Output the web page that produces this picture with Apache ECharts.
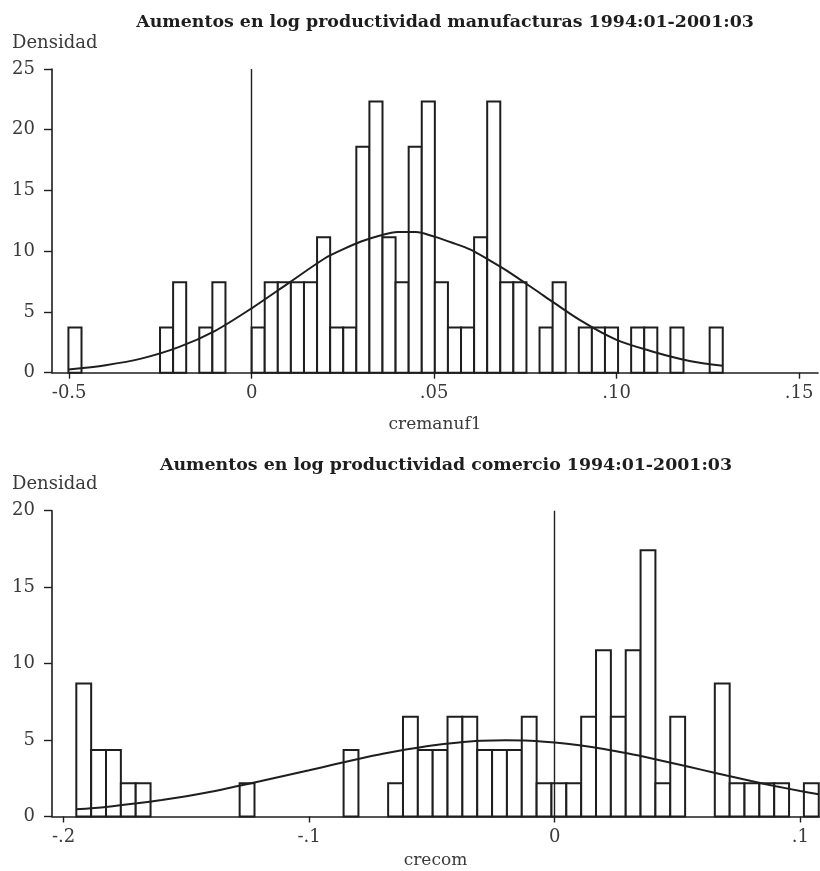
<!DOCTYPE html>
<html>
<head>
<meta charset="utf-8">
<script src="https://cdn.jsdelivr.net/npm/echarts@6/dist/echarts.min.js"></script>
<style>
  html, body { margin: 0; padding: 0; background: #fff; }
  #chart { width: 820px; height: 871px; }
</style>
</head>
<body>
<div id="chart"></div>
<script>
// ---- Manufacturing: 12-month log productivity growth (cremanuf1) ----
const manufTitle = 'Aumentos en log productividad manufacturas 1994:01-2001:03';
const manufVar = 'cremanuf1';
const manufBinStart = -0.0502;
const manufBinWidth = 0.003586;
const manufDensity = [
  3.72, 0, 0, 0, 0, 0, 0, 3.72, 7.44, 0,
  3.72, 7.44, 0, 0, 3.72, 7.44, 7.44, 7.44, 7.44, 11.16,
  3.72, 3.72, 18.6, 22.32, 11.16, 7.44, 18.6, 22.32, 7.44, 3.72,
  3.72, 11.16, 22.32, 7.44, 7.44, 0, 3.72, 7.44, 0, 3.72,
  3.72, 3.72, 0, 3.72, 3.72, 0, 3.72, 0, 0, 3.72
];
const manufNormalX = [-0.0502, -0.04, -0.03, -0.02, -0.01, 0, 0.01, 0.02, 0.025, 0.03,
  0.035, 0.04, 0.045, 0.05, 0.055, 0.06, 0.065, 0.07, 0.08, 0.09,
  0.10, 0.11, 0.12, 0.1291];
const manufNormalY = [0.27, 0.62, 1.18, 2.1, 3.45, 5.3, 7.35, 9.4, 10.15, 10.8,
  11.28, 11.58, 11.58, 11.2, 10.7, 10.13, 9.28, 8.38, 6.35, 4.32,
  2.7, 1.73, 0.97, 0.58];
const manufTickValues = [-0.05, 0, 0.05, 0.10, 0.15];
const manufTickLabels = ['-0.5', '0', '.05', '.10', '.15'];
const manufYTicks = [0, 5, 10, 15, 20, 25];

// ---- Commerce: 12-month log productivity growth (crecom) ----
const comTitle = 'Aumentos en log productividad comercio 1994:01-2001:03';
const comVar = 'crecom';
const comBinStart = -0.1948;
const comBinWidth = 0.006046;
const comDensity = [
  8.7, 4.35, 4.35, 2.18, 2.18, 0, 0, 0, 0, 0,
  0, 2.18, 0, 0, 0, 0, 0, 0, 4.35, 0,
  0, 2.18, 6.53, 4.35, 4.35, 6.53, 6.53, 4.35, 4.35, 4.35,
  6.53, 2.18, 2.18, 2.18, 6.53, 10.88, 6.53, 10.88, 17.41, 2.18,
  6.53, 0, 0, 8.7, 2.18, 2.18, 2.18, 2.18, 0, 2.18
];
const comNormalX = [-0.1948, -0.19, -0.18, -0.17, -0.16, -0.15, -0.14, -0.13, -0.12, -0.11,
  -0.10, -0.09, -0.08, -0.07, -0.06, -0.05, -0.04, -0.03, -0.02, -0.01,
  0, 0.01, 0.02, 0.03, 0.04, 0.05, 0.06, 0.07, 0.08, 0.09, 0.10, 0.1075];
const comNormalY = [0.47, 0.52, 0.67, 0.86, 1.08, 1.33, 1.62, 1.96, 2.3, 2.66,
  3.02, 3.4, 3.76, 4.1, 4.4, 4.65, 4.83, 4.95, 4.99, 4.96,
  4.84, 4.66, 4.42, 4.12, 3.78, 3.42, 3.05, 2.68, 2.32, 1.98, 1.67, 1.45];
const comTickValues = [-0.2, -0.1, 0, 0.1];
const comTickLabels = ['-.2', '-.1', '0', '.1'];
const comYTicks = [0, 5, 10, 15, 20];

const yLabel = 'Densidad';
const refLineX = 0;

// ---- styling ----
const FONT = 'DejaVu Serif';
const INK = '#1e1e1e';
const TEXT = '#3a3a3a';

function binRows(start, width, dens) {
  return dens.map((d, i) => [start + i * width, start + (i + 1) * width, d]);
}
function pairs(xs, ys) {
  return xs.map((x, i) => [x, ys[i]]);
}
function tickFormatter(values, labels) {
  return v => {
    const k = values.findIndex(t => Math.abs(t - v) < 1e-9);
    return k >= 0 ? labels[k] : '';
  };
}

function renderBin(params, api) {
  const h = api.value(2);
  if (!(h > 0)) return null;
  const p0 = api.coord([api.value(0), h]);
  const p1 = api.coord([api.value(1), 0]);
  return {
    type: 'rect',
    shape: { x: p0[0], y: p0[1], width: p1[0] - p0[0], height: p1[1] - p0[1] },
    style: { fill: '#fff', stroke: INK, lineWidth: 2 }
  };
}

function xAxisFor(gridIndex, min, max, values, labels, name, nameGap) {
  return {
    type: 'value', gridIndex, min, max,
    name, nameLocation: 'middle', nameGap,
    nameTextStyle: { fontFamily: FONT, fontSize: 17, color: TEXT },
    axisLine: { show: true, onZero: false, lineStyle: { color: INK, width: 1.6 } },
    axisTick: { show: true, customValues: values, length: 6, lineStyle: { color: INK, width: 1.4 } },
    axisLabel: { customValues: values, formatter: tickFormatter(values, labels), margin: 12,
      fontFamily: FONT, fontSize: 18, color: TEXT },
    splitLine: { show: false }
  };
}
function yAxisFor(gridIndex, ticks) {
  return {
    type: 'value', gridIndex, min: ticks[0], max: ticks[ticks.length - 1], interval: ticks[1] - ticks[0],
    name: yLabel, nameLocation: 'end', nameGap: 17,
    nameTextStyle: { fontFamily: FONT, fontSize: 18, color: TEXT, align: 'left', padding: [0, 0, 0, -40] },
    axisLine: { show: true, onZero: false, lineStyle: { color: INK, width: 1.6 } },
    axisTick: { show: true, length: 8, lineStyle: { color: INK, width: 1.4 } },
    axisLabel: { margin: 17, fontFamily: FONT, fontSize: 18, color: TEXT },
    splitLine: { show: false }
  };
}

const chart = echarts.init(document.getElementById('chart'), null, { renderer: 'canvas' });
chart.setOption({
  backgroundColor: '#fff',
  animation: false,
  title: [
    { text: manufTitle, left: 440, top: 9, textAlign: 'center',
      textStyle: { fontFamily: FONT, fontSize: 17.4, fontWeight: 'bold', color: INK } },
    { text: comTitle, left: 441, top: 452, textAlign: 'center',
      textStyle: { fontFamily: FONT, fontSize: 17.4, fontWeight: 'bold', color: INK } }
  ],
  grid: [
    { left: 52, top: 69, width: 766, height: 303.7 },
    { left: 52, top: 510.7, width: 767, height: 305.8 }
  ],
  xAxis: [
    xAxisFor(0, -0.0547, 0.1552, manufTickValues, manufTickLabels, manufVar, 43),
    xAxisFor(1, -0.2047, 0.1076, comTickValues, comTickLabels, comVar, 36)
  ],
  yAxis: [yAxisFor(0, manufYTicks), yAxisFor(1, comYTicks)],
  series: [
    { type: 'custom', xAxisIndex: 0, yAxisIndex: 0, renderItem: renderBin,
      encode: { x: [0, 1], y: 2 }, data: binRows(manufBinStart, manufBinWidth, manufDensity),
      markLine: { silent: true, symbol: 'none', label: { show: false },
        lineStyle: { color: INK, width: 1.4, type: 'solid' }, data: [{ xAxis: refLineX }] } },
    { type: 'line', xAxisIndex: 0, yAxisIndex: 0, data: pairs(manufNormalX, manufNormalY),
      smooth: 0.3, symbol: 'none', lineStyle: { color: INK, width: 2 }, z: 5 },
    { type: 'custom', xAxisIndex: 1, yAxisIndex: 1, renderItem: renderBin,
      encode: { x: [0, 1], y: 2 }, data: binRows(comBinStart, comBinWidth, comDensity),
      markLine: { silent: true, symbol: 'none', label: { show: false },
        lineStyle: { color: INK, width: 1.4, type: 'solid' }, data: [{ xAxis: refLineX }] } },
    { type: 'line', xAxisIndex: 1, yAxisIndex: 1, data: pairs(comNormalX, comNormalY),
      smooth: 0.3, symbol: 'none', lineStyle: { color: INK, width: 2 }, z: 5 }
  ]
});
</script>
</body>
</html>
